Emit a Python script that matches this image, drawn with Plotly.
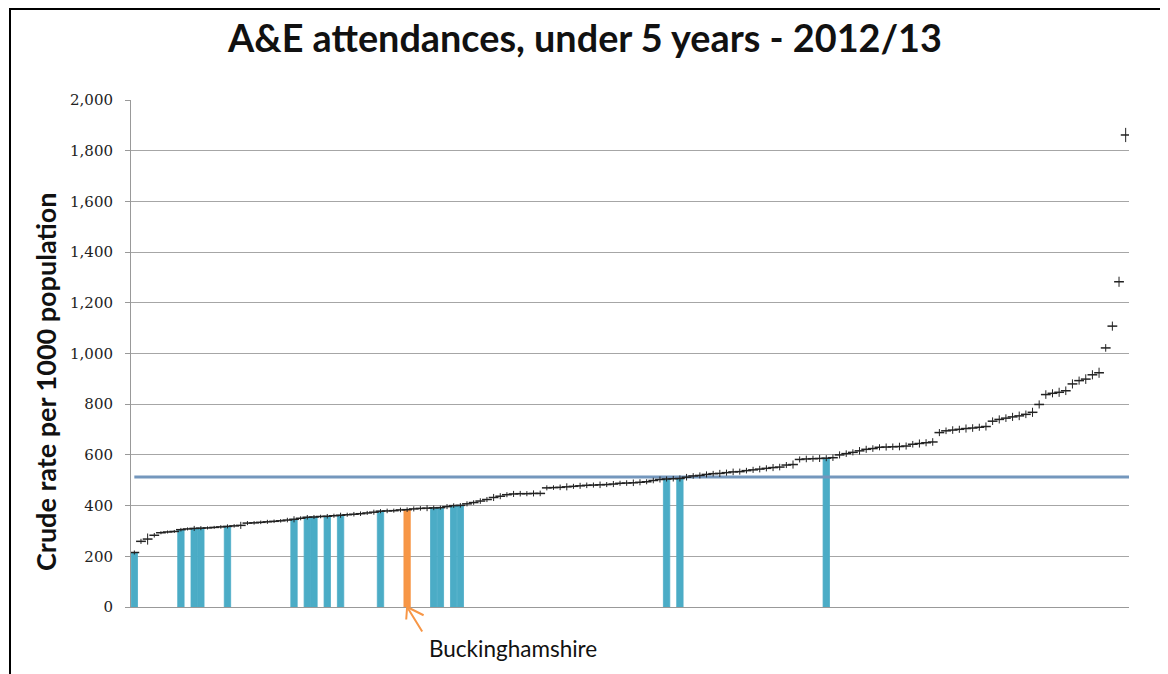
import plotly.graph_objects as go

# ---- data ----
area_rank = list(range(150))  # areas ordered by rate, lowest to highest

rates = [
    215, 259, 268, 283, 293, 296, 298, 305, 308, 310,
    311, 312, 314, 316, 318, 320, 322, 331, 332, 334,
    336, 338, 340, 343, 346, 350, 354, 355, 357, 358,
    360, 362, 364, 366, 368, 371, 374, 378, 379, 380,
    383, 384, 387, 389, 390, 391, 392, 396, 400, 401,
    407, 412, 418, 424, 432, 437, 443, 446, 447, 447,
    448, 448, 470, 471, 472, 474, 476, 478, 480, 481,
    482, 483, 485, 488, 489, 490, 492, 494, 499, 503,
    505, 506, 507, 512, 517, 519, 523, 526, 527, 530,
    533, 534, 538, 541, 544, 547, 550, 552, 560, 562,
    582, 584, 585, 586, 587, 589, 600, 605, 610, 616,
    622, 625, 630, 631, 632, 633, 635, 642, 645, 648,
    651, 688, 695, 698, 701, 704, 706, 709, 712, 733,
    740, 745, 750, 754, 760, 768, 799, 838, 843, 847,
    853, 880, 893, 899, 916, 924, 1022, 1108, 1283, 1862,
]

ci_half = [
    8, 10, 22, 9, 6, 6, 6, 7, 6, 10,
    8, 6, 6, 7, 8, 7, 14, 8, 7, 7,
    8, 7, 7, 9, 12, 8, 9, 8, 7, 9,
    8, 10, 8, 9, 9, 8, 10, 8, 9, 8,
    9, 9, 10, 9, 12, 9, 8, 10, 9, 9,
    10, 9, 11, 10, 14, 12, 10, 12, 11, 10,
    12, 11, 10, 9, 11, 14, 10, 12, 11, 10,
    13, 10, 12, 10, 11, 13, 12, 10, 11, 12,
    10, 11, 12, 13, 11, 12, 12, 11, 14, 12,
    13, 12, 11, 12, 13, 12, 14, 13, 12, 16,
    12, 13, 12, 14, 12, 13, 14, 13, 12, 15,
    14, 13, 12, 14, 13, 15, 14, 13, 16, 14,
    15, 14, 13, 15, 14, 16, 15, 14, 16, 15,
    16, 15, 16, 17, 15, 18, 16, 17, 16, 18,
    17, 18, 16, 19, 18, 20, 15, 18, 20, 28,
]

comparator_idx = [0, 7, 9, 10, 14, 24, 26, 27, 29, 31, 37, 45, 46, 48, 49, 80, 82, 104]
buckinghamshire_idx = 41
england_avg = 513
y_ticks = [0, 200, 400, 600, 800, 1000, 1200, 1400, 1600, 1800, 2000]

TEAL = "#4BACC6"
ORANGE = "#F79646"
GRID = "#A6A6A6"

# page body has an 8px margin: figure is sized/offset to compensate
W, H = 1160, 666
L, T = 123, 92
PW, PH = 998, 507

fig = go.Figure()

fig.add_trace(go.Bar(
    x=comparator_idx,
    y=[rates[i] for i in comparator_idx],
    width=0.96,
    marker=dict(color=TEAL, line=dict(width=0.8, color=TEAL)),
    showlegend=False,
))
fig.add_trace(go.Bar(
    x=[buckinghamshire_idx],
    y=[rates[buckinghamshire_idx]],
    width=0.96,
    marker=dict(color=ORANGE, line=dict(width=0.8, color=ORANGE)),
    showlegend=False,
))
fig.add_trace(go.Scatter(
    x=[area_rank[0], area_rank[-1] + 0.5],
    y=[england_avg, england_avg],
    mode="lines",
    line=dict(color="#7497BD", width=3),
    showlegend=False,
))
fig.add_trace(go.Scatter(
    x=area_rank,
    y=rates,
    mode="markers",
    marker=dict(symbol="line-ew", size=7, color="#222222",
                line=dict(width=1.5, color="#222222")),
    error_y=dict(type="data", array=ci_half, visible=True,
                 thickness=1, width=0, color="#222222"),
    showlegend=False,
))

def px(xf):
    return (xf - L) / PW

def py(yf):
    return (T + PH - yf) / PH

fig.update_layout(
    width=W,
    height=H,
    margin=dict(l=L, r=W - L - PW, t=T, b=H - T - PH),
    paper_bgcolor="white",
    plot_bgcolor="white",
    barmode="overlay",
    title=dict(
        text="<b>A&E attendances, under 5 years - 2012/13</b>",
        x=577 / W, xanchor="center", xref="container",
        y=1 - 31 / H, yanchor="middle", yref="container",
        font=dict(family="Lato", size=37.8, color="#111111"),
    ),
    xaxis=dict(
        range=[-0.5, 149.5],
        showticklabels=False,
        showgrid=False,
        zeroline=False,
        showline=True,
        linecolor="#999999",
        linewidth=1,
        ticks="",
    ),
    yaxis=dict(
        range=[0, 2000],
        tickvals=y_ticks,
        tickformat=",",
        ticks="outside",
        ticklen=5,
        tickcolor="#999999",
        showline=True,
        linecolor="#999999",
        linewidth=1,
        showgrid=True,
        gridcolor=GRID,
        gridwidth=1,
        zeroline=False,
        tickfont=dict(family="DejaVu Serif", size=15, color="#222222"),
        ticklabelstandoff=9,
    ),
    annotations=[
        dict(
            text="<b>Crude rate per 1000 population</b>",
            xref="paper", yref="paper",
            x=px(37), y=py(374),
            xanchor="center", yanchor="middle",
            textangle=-90, showarrow=False,
            font=dict(family="Lato", size=27, color="#111111"),
        ),
        dict(
            text="Buckinghamshire",
            xref="paper", yref="paper",
            x=px(505), y=py(640),
            xanchor="center", yanchor="middle",
            showarrow=False,
            font=dict(family="Lato", size=22.5, color="#111111"),
        ),
        dict(text="", x=buckinghamshire_idx, y=0, xref="x", yref="y",
             showarrow=True, arrowhead=0, ax=16, ay=26,
             arrowcolor=ORANGE, arrowwidth=2, standoff=0),
        dict(text="", x=buckinghamshire_idx, y=0, xref="x", yref="y",
             showarrow=True, arrowhead=0, ax=-1, ay=14,
             arrowcolor=ORANGE, arrowwidth=2, standoff=0),
        dict(text="", x=buckinghamshire_idx, y=0, xref="x", yref="y",
             showarrow=True, arrowhead=0, ax=18, ay=9,
             arrowcolor=ORANGE, arrowwidth=2, standoff=0),
    ],
    shapes=[
        dict(type="rect", xref="paper", yref="paper",
             x0=px(2), x1=1.2, y0=-0.3, y1=py(1),
             line=dict(color="black", width=2), fillcolor="rgba(0,0,0,0)",
             layer="above"),
    ],
)

fig.write_html("out.html")
